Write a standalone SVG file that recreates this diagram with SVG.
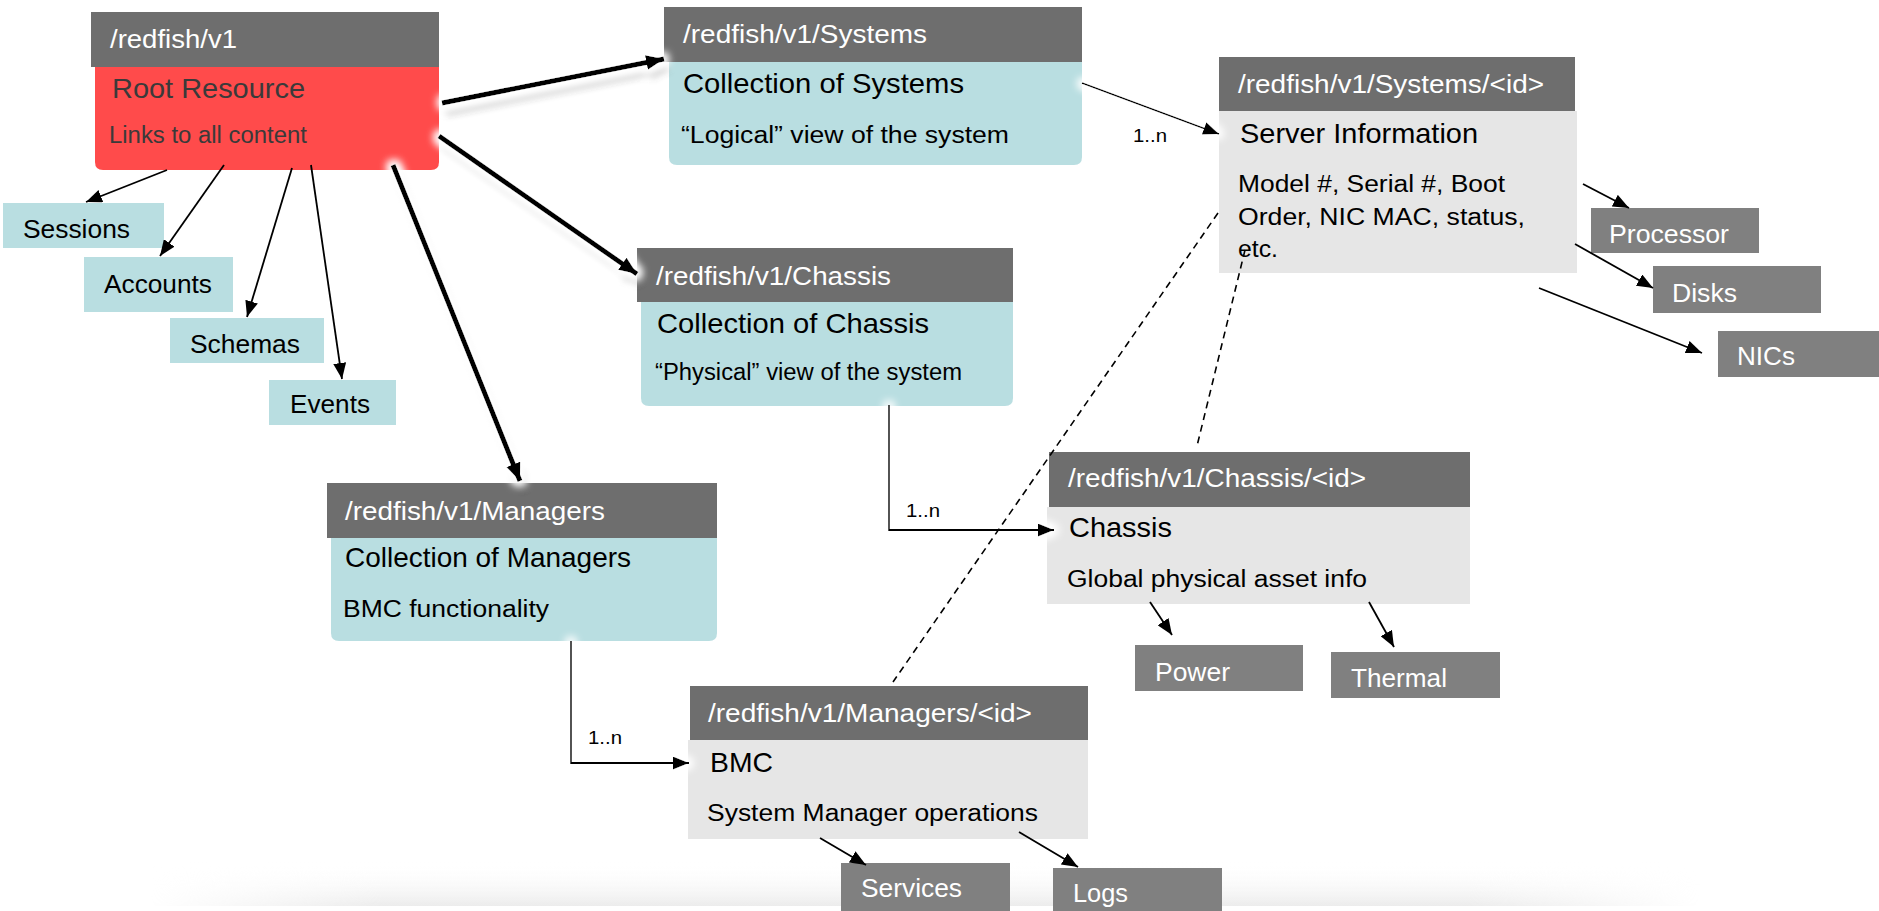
<svg xmlns="http://www.w3.org/2000/svg" width="1879" height="911" viewBox="0 0 1879 911">
<defs>
<style>
text{font-family:"Liberation Sans",Arial,sans-serif;}
.hdr{fill:#6e6e6e;}
.hdrt{fill:#ffffff;font-size:26px;}
.red{fill:#ff4b4b;}
.blue{fill:#b9dee1;}
.lgray{fill:#e6e6e6;}
.dgray{fill:#808080;}
.ttl{fill:#000;font-size:28.5px;}
.sub{fill:#000;font-size:23px;}
.rtxt{fill:#3a3a3a;}
.btxt{fill:#000;font-size:26px;}
.wtxt{fill:#fff;font-size:26px;}
.lbl{fill:#000;font-size:18px;}
.thick{stroke:#000;stroke-width:5;fill:none;}
.thin{stroke:#000;stroke-width:1.8;fill:none;}
.dash{stroke:#000;stroke-width:1.6;fill:none;stroke-dasharray:7 5;}
</style>
<marker id="ahThick" markerUnits="userSpaceOnUse" markerWidth="19" markerHeight="15" refX="18" refY="7.5" orient="auto">
<path d="M0,0 L18,7.5 L0,15 Z" fill="#000"/>
</marker>
<marker id="ah" markerUnits="userSpaceOnUse" markerWidth="17" markerHeight="13" refX="16" refY="6.5" orient="auto">
<path d="M0,0 L16,6.5 L0,13 Z" fill="#000"/>
</marker>
<filter id="thickfx" filterUnits="userSpaceOnUse" x="0" y="0" width="1879" height="911">
<feGaussianBlur in="SourceAlpha" stdDeviation="3.5" result="sb"/>
<feOffset in="sb" dx="4" dy="9" result="so"/>
<feFlood flood-color="#000" flood-opacity="0.45"/>
<feComposite in2="so" operator="in" result="shadow"/>
<feMorphology in="SourceAlpha" operator="dilate" radius="3" result="d"/>
<feGaussianBlur in="d" stdDeviation="4.5" result="g"/>
<feFlood flood-color="#fff"/>
<feComposite in2="g" operator="in" result="glow"/>
<feMerge><feMergeNode in="shadow"/><feMergeNode in="glow"/><feMergeNode in="glow"/><feMergeNode in="SourceGraphic"/></feMerge>
</filter>
<filter id="glowfx" filterUnits="userSpaceOnUse" x="0" y="0" width="1879" height="911">
<feMorphology in="SourceAlpha" operator="dilate" radius="3" result="d"/>
<feGaussianBlur in="d" stdDeviation="4" result="g"/>
<feFlood flood-color="#fff"/>
<feComposite in2="g" operator="in" result="glow"/>
<feMerge><feMergeNode in="glow"/><feMergeNode in="glow"/><feMergeNode in="SourceGraphic"/></feMerge>
</filter>
<linearGradient id="bandV" x1="0" y1="0" x2="0" y2="1">
<stop offset="0" stop-color="#ffffff" stop-opacity="0"/>
<stop offset="1" stop-color="#ececec" stop-opacity="1"/>
</linearGradient>
<linearGradient id="bandH" x1="0" y1="0" x2="1" y2="0">
<stop offset="0" stop-color="#fff" stop-opacity="0"/>
<stop offset="0.15" stop-color="#fff" stop-opacity="1"/>
<stop offset="0.85" stop-color="#fff" stop-opacity="1"/>
<stop offset="1" stop-color="#fff" stop-opacity="0"/>
</linearGradient>
<mask id="bandMask" maskUnits="userSpaceOnUse" x="0" y="840" width="1879" height="71">
<rect x="150" y="850" width="1550" height="61" fill="url(#bandH)"/>
</mask>
</defs>
<rect x="0" y="0" width="1879" height="911" fill="#ffffff"/>
<g id="bottom-band" mask="url(#bandMask)">
<rect x="150" y="862" width="1550" height="44" fill="url(#bandV)"/>
</g>

<g id="root">
<rect class="hdr" x="91" y="12" width="348" height="55"/>
<path class="red" d="M95,67 H439 V162 Q439,170 431,170 H103 Q95,170 95,162 Z"/>
<text class="hdrt" x="110" y="48" textLength="127" lengthAdjust="spacingAndGlyphs">/redfish/v1</text>
<text class="ttl rtxt" x="112" y="98" textLength="193" lengthAdjust="spacingAndGlyphs">Root Resource</text>
<text class="sub rtxt" x="109" y="143" textLength="198" lengthAdjust="spacingAndGlyphs">Links to all content</text>
</g>

<g id="sessions">
<rect class="blue" x="3" y="203" width="161" height="45"/>
<text class="btxt" x="23" y="238" textLength="107" lengthAdjust="spacingAndGlyphs">Sessions</text>
</g>
<g id="accounts">
<rect class="blue" x="84" y="257" width="149" height="55"/>
<text class="btxt" x="104" y="293" textLength="108" lengthAdjust="spacingAndGlyphs">Accounts</text>
</g>
<g id="schemas">
<rect class="blue" x="170" y="318" width="154" height="45"/>
<text class="btxt" x="190" y="353" textLength="110" lengthAdjust="spacingAndGlyphs">Schemas</text>
</g>
<g id="events">
<rect class="blue" x="269" y="380" width="127" height="45"/>
<text class="btxt" x="290" y="413" textLength="80" lengthAdjust="spacingAndGlyphs">Events</text>
</g>

<g id="systems">
<rect class="hdr" x="664" y="7" width="418" height="55"/>
<path class="blue" d="M669,62 H1082 V157 Q1082,165 1074,165 H677 Q669,165 669,157 Z"/>
<text class="hdrt" x="683" y="43" textLength="244" lengthAdjust="spacingAndGlyphs">/redfish/v1/Systems</text>
<text class="ttl" x="683" y="93" textLength="281" lengthAdjust="spacingAndGlyphs">Collection of Systems</text>
<text class="sub" x="681" y="143" textLength="328" lengthAdjust="spacingAndGlyphs">“Logical” view of the system</text>
</g>

<g id="chassis">
<rect class="hdr" x="637" y="248" width="376" height="54"/>
<path class="blue" d="M641,302 H1013 V398 Q1013,406 1005,406 H649 Q641,406 641,398 Z"/>
<text class="hdrt" x="656" y="285" textLength="235" lengthAdjust="spacingAndGlyphs">/redfish/v1/Chassis</text>
<text class="ttl" x="657" y="333" textLength="272" lengthAdjust="spacingAndGlyphs">Collection of Chassis</text>
<text class="sub" x="655" y="380" textLength="307" lengthAdjust="spacingAndGlyphs">“Physical” view of the system</text>
</g>

<g id="managers">
<rect class="hdr" x="327" y="483" width="390" height="55"/>
<path class="blue" d="M331,538 H717 V633 Q717,641 709,641 H339 Q331,641 331,633 Z"/>
<text class="hdrt" x="345" y="520" textLength="260" lengthAdjust="spacingAndGlyphs">/redfish/v1/Managers</text>
<text class="ttl" x="345" y="567" textLength="286" lengthAdjust="spacingAndGlyphs">Collection of Managers</text>
<text class="sub" x="343" y="617" textLength="206" lengthAdjust="spacingAndGlyphs">BMC functionality</text>
</g>

<g id="system-id">
<rect class="hdr" x="1219" y="57" width="356" height="54"/>
<rect class="lgray" x="1219" y="111" width="358" height="162"/>
<text class="hdrt" x="1238" y="93" textLength="306" lengthAdjust="spacingAndGlyphs">/redfish/v1/Systems/&lt;id&gt;</text>
<text class="ttl" x="1240" y="143" textLength="238" lengthAdjust="spacingAndGlyphs">Server Information</text>
<text class="sub" x="1238" y="192" textLength="267" lengthAdjust="spacingAndGlyphs">Model #, Serial #, Boot</text>
<text class="sub" x="1238" y="225" textLength="287" lengthAdjust="spacingAndGlyphs">Order, NIC MAC, status,</text>
<text class="sub" x="1238" y="257" textLength="40" lengthAdjust="spacingAndGlyphs">etc.</text>
</g>
<g id="processor">
<rect class="dgray" x="1591" y="208" width="168" height="45"/>
<text class="wtxt" x="1609" y="243" textLength="120" lengthAdjust="spacingAndGlyphs">Processor</text>
</g>
<g id="disks">
<rect class="dgray" x="1653" y="266" width="168" height="47"/>
<text class="wtxt" x="1672" y="302" textLength="65" lengthAdjust="spacingAndGlyphs">Disks</text>
</g>
<g id="nics">
<rect class="dgray" x="1718" y="331" width="161" height="46"/>
<text class="wtxt" x="1737" y="365" textLength="58" lengthAdjust="spacingAndGlyphs">NICs</text>
</g>

<g id="chassis-id">
<rect class="hdr" x="1049" y="452" width="421" height="55"/>
<rect class="lgray" x="1047" y="507" width="423" height="97"/>
<text class="hdrt" x="1068" y="487" textLength="298" lengthAdjust="spacingAndGlyphs">/redfish/v1/Chassis/&lt;id&gt;</text>
<text class="ttl" x="1069" y="537" textLength="103" lengthAdjust="spacingAndGlyphs">Chassis</text>
<text class="sub" x="1067" y="587" textLength="300" lengthAdjust="spacingAndGlyphs">Global physical asset info</text>
</g>
<g id="power">
<rect class="dgray" x="1135" y="645" width="168" height="46"/>
<text class="wtxt" x="1155" y="681" textLength="75" lengthAdjust="spacingAndGlyphs">Power</text>
</g>
<g id="thermal">
<rect class="dgray" x="1331" y="652" width="169" height="46"/>
<text class="wtxt" x="1351" y="687" textLength="96" lengthAdjust="spacingAndGlyphs">Thermal</text>
</g>

<g id="manager-id">
<rect class="hdr" x="690" y="686" width="398" height="54"/>
<rect class="lgray" x="688" y="740" width="400" height="99"/>
<text class="hdrt" x="708" y="722" textLength="324" lengthAdjust="spacingAndGlyphs">/redfish/v1/Managers/&lt;id&gt;</text>
<text class="ttl" x="710" y="772" textLength="63" lengthAdjust="spacingAndGlyphs">BMC</text>
<text class="sub" x="707" y="821" textLength="331" lengthAdjust="spacingAndGlyphs">System Manager operations</text>
</g>
<g id="services">
<rect class="dgray" x="841" y="863" width="169" height="48"/>
<text class="wtxt" x="861" y="897" textLength="101" lengthAdjust="spacingAndGlyphs">Services</text>
</g>
<g id="logs">
<rect class="dgray" x="1053" y="868" width="169" height="43"/>
<text class="wtxt" x="1073" y="902" textLength="55" lengthAdjust="spacingAndGlyphs">Logs</text>
</g>

<g id="connectors">
<path class="thick" filter="url(#thickfx)" marker-end="url(#ahThick)" d="M442,103 L664,59"/>
<path class="thick" filter="url(#thickfx)" marker-end="url(#ahThick)" d="M439,136 L637,274"/>
<path class="thick" filter="url(#thickfx)" marker-end="url(#ahThick)" d="M393,165 L520,481"/>
<path class="thin" marker-end="url(#ah)" d="M167,170 L86,202"/>
<path class="thin" marker-end="url(#ah)" d="M224,165 L160,256"/>
<path class="thin" marker-end="url(#ah)" d="M292,168 L247,317"/>
<path class="thin" marker-end="url(#ah)" d="M311,165 L342,379"/>
<path class="thin" filter="url(#glowfx)" marker-end="url(#ah)" d="M1082,83 L1219,134"/>
<path class="thin" filter="url(#glowfx)" marker-end="url(#ah)" d="M889,405 V530 H1054"/>
<path class="thin" filter="url(#glowfx)" marker-end="url(#ah)" d="M571,641 V763 H689"/>
<path class="thin" marker-end="url(#ah)" d="M1583,184 L1629,208"/>
<path class="thin" marker-end="url(#ah)" d="M1575,244 L1653,288"/>
<path class="thin" marker-end="url(#ah)" d="M1539,288 L1702,353"/>
<path class="thin" marker-end="url(#ah)" d="M1150,602 L1172,635"/>
<path class="thin" marker-end="url(#ah)" d="M1369,602 L1394,647"/>
<path class="thin" marker-end="url(#ah)" d="M820,838 L866,865"/>
<path class="thin" marker-end="url(#ah)" d="M1019,832 L1078,867"/>
<path class="dash" d="M1218,213 L893,682"/>
<path class="dash" d="M1245,250 L1197,446"/>
<text class="lbl" x="1133" y="142" textLength="34" lengthAdjust="spacingAndGlyphs">1..n</text>
<text class="lbl" x="906" y="517" textLength="34" lengthAdjust="spacingAndGlyphs">1..n</text>
<text class="lbl" x="588" y="744" textLength="34" lengthAdjust="spacingAndGlyphs">1..n</text>
</g>
</svg>
